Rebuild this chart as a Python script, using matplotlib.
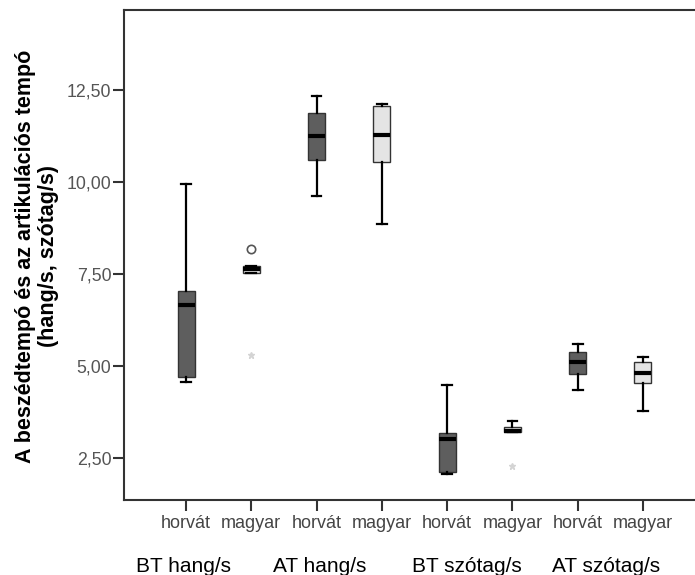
import matplotlib.pyplot as plt

plt.rcParams['font.family'] = ['Liberation Sans', 'DejaVu Sans']

# groups and nationality on the x axis
groups = ["BT hang/s", "AT hang/s", "BT szótag/s", "AT szótag/s"]
langs = ["horvát", "magyar"]

# box statistics (8 boxes, horvát/magyar alternating)
whis_lo = [4.55, 7.51, 9.61, 8.85, 2.05, 3.19, 4.33, 3.76]
q1 = [4.70, 7.51, 10.59, 10.54, 2.11, 3.19, 4.78, 4.54]
med = [6.65, 7.62, 11.23, 11.27, 3.02, 3.24, 5.10, 4.80]
q3 = [7.03, 7.71, 11.87, 12.05, 3.17, 3.33, 5.37, 5.09]
whis_hi = [9.94, 7.71, 12.32, 12.12, 4.49, 3.51, 5.58, 5.23]

# outliers (circle) and extremes (star): (box index, value)
outliers = [(1, 8.18)]
extremes = [(1, 5.29), (5, 2.29)]

dark = "#5e5e5e"
light = "#e4e4e4"

fig = plt.figure(figsize=(6.95, 5.75), dpi=100)
ax = fig.add_axes([124 / 695, 75 / 575, 581 / 695, 490 / 575])

stats = []
for i in range(8):
    stats.append({"whislo": whis_lo[i], "q1": q1[i], "med": med[i],
                  "q3": q3[i], "whishi": whis_hi[i], "fliers": []})

pos = list(range(1, 9))
bp = ax.bxp(stats, positions=pos, widths=0.26, patch_artist=True,
            showfliers=False, capwidths=0.15,
            boxprops=dict(edgecolor="#333333", linewidth=1.0),
            medianprops=dict(color="black", linewidth=3),
            whiskerprops=dict(color="black", linewidth=1.6),
            capprops=dict(color="black", linewidth=1.6))
for i, b in enumerate(bp["boxes"]):
    b.set_facecolor(dark if i % 2 == 0 else light)

for i, v in outliers:
    ax.plot(pos[i], v, "o", mfc="white", mec="#555555", ms=6, mew=1.2)
for i, v in extremes:
    ax.plot(pos[i], v, "*", color="#d4d4d4", ms=5)

ax.set_xlim(0.05, 8.95)
ax.set_ylim(1.356, 14.66)
ax.set_yticks([2.5, 5.0, 7.5, 10.0, 12.5])
ax.set_yticklabels(["2,50", "5,00", "7,50", "10,00", "12,50"])
ax.set_xticks(pos)
ax.set_xticklabels(langs * 4)
ax.tick_params(axis="y", length=8, width=1.5, color="#333333",
               labelsize=12.8, labelcolor="#555555", pad=1)
ax.tick_params(axis="x", length=8, width=1.5, color="#333333",
               labelsize=13, labelcolor="#454545", pad=3)
for s in ax.spines.values():
    s.set_color("#333333")
    s.set_linewidth(1.5)

# group labels under the tick labels
group_x = [183, 320, 467, 606]
for g, x in zip(groups, group_x):
    fig.text(x / 695, 3 / 575, g, ha="center", va="baseline", fontsize=15)

fig.text(37 / 695, 1 - 256 / 575,
         "A beszédtempó és az artikulációs tempó\n(hang/s, szótag/s)",
         rotation=90, ha="center", va="center", fontsize=15.5,
         fontweight="bold", multialignment="center", linespacing=1.1)

fig.savefig("out.png", dpi=100)
